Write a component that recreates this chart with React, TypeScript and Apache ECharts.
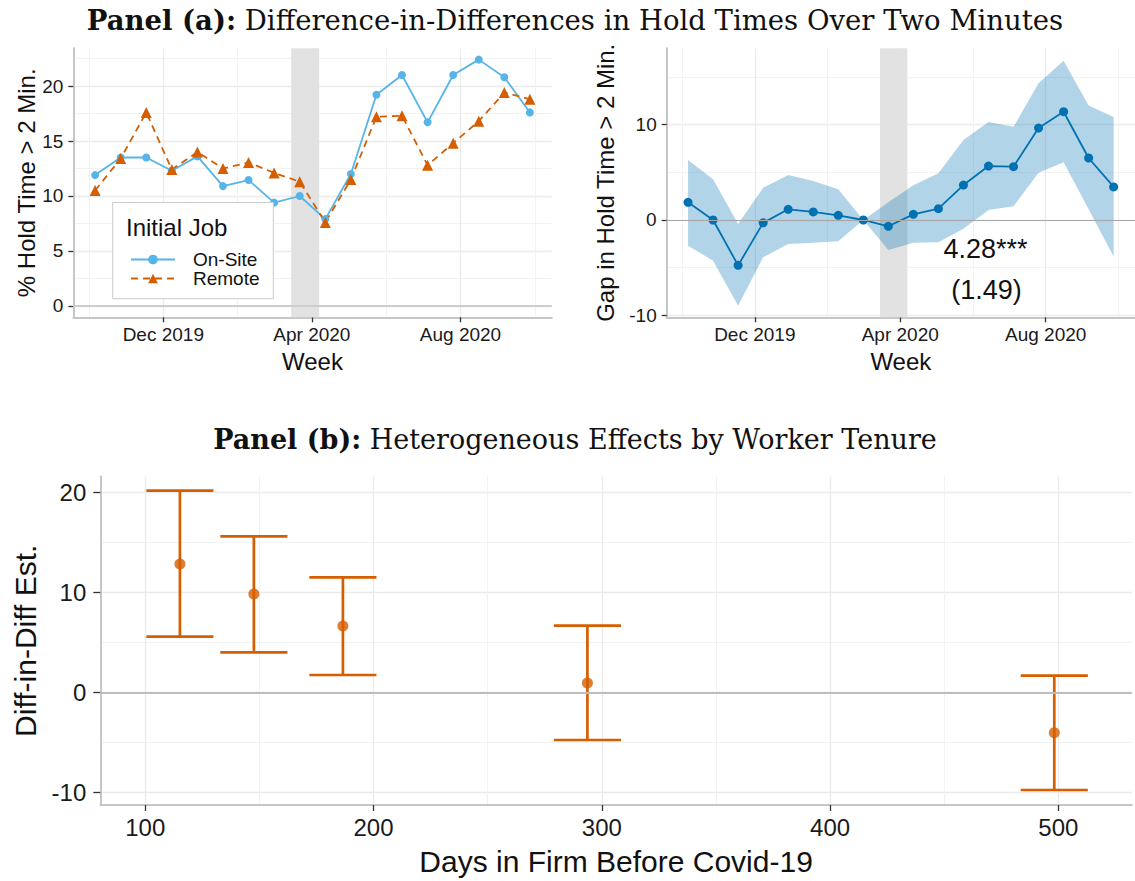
import React, { useEffect, useRef } from "react";
import * as echarts from "echarts";

const SANS = "'Liberation Sans', Arial, Helvetica, sans-serif";
const SERIF = "'DejaVu Serif', serif";
const TEXT = "#111111";

// ---------- Panel (a) data ----------
const ORIGIN = "2019-12-01";
const weeks = [
  "2019-10-06", "2019-10-27", "2019-11-17", "2019-12-08", "2019-12-29", "2020-01-19",
  "2020-02-09", "2020-03-01", "2020-03-22", "2020-04-12", "2020-05-03", "2020-05-24",
  "2020-06-14", "2020-07-05", "2020-07-26", "2020-08-16", "2020-09-06", "2020-09-27",
];
const onSite = [11.9, 13.5, 13.5, 12.3, 13.6, 10.9, 11.45, 9.4, 10.0, 7.9, 12.0, 19.2, 21.0, 16.7, 21.0, 22.4, 20.8, 17.6];
const remote = [10.5, 13.4, 17.6, 12.4, 14.0, 12.5, 13.05, 12.1, 11.3, 7.6, 11.5, 17.2, 17.3, 12.8, 14.8, 16.8, 19.4, 18.8];
const gap = [1.85, 0.0, -4.75, -0.3, 1.12, 0.84, 0.49, 0.0, -0.66, 0.59, 1.19, 3.66, 5.65, 5.58, 9.63, 11.34, 6.49, 3.46];
const gapUpper = [6.28, 4.26, -0.42, 3.38, 4.71, 4.08, 3.21, 0.0, 1.85, 3.63, 4.89, 8.38, 10.26, 9.77, 14.31, 16.68, 12.0, 10.79];
const gapLower = [-2.69, -4.26, -8.97, -3.91, -2.51, -2.37, -2.23, 0.0, -3.14, -2.37, -2.34, -0.91, 1.05, 1.43, 4.96, 6.04, 1.12, -3.84];

const dateTicks = ["2019-12-01", "2020-04-01", "2020-08-01"];
const dateTickLabels = ["Dec 2019", "Apr 2020", "Aug 2020"];
const dateMinor = ["2019-10-01", "2020-01-31", "2020-06-01", "2020-10-01"];
const shadeDates = ["2020-03-15", "2020-04-07"];
const holdTicks = [0, 5, 10, 15, 20];
const holdMinor = [2.5, 7.5, 12.5, 17.5, 22.5];
const gapTicks = [-10, 0, 10];
const gapMinor = [-5, 5, 15];
const seriesNames = ["On-Site", "Remote"];
const didLabel = "4.28***";
const seLabel = "(1.49)";

// ---------- Panel (b) data ----------
const tenureDays = [115.2, 147.6, 186.6, 293.7, 498.2];
const tenureEst = [12.85, 9.85, 6.65, 0.95, -4.02];
const tenureHi = [20.18, 15.62, 11.52, 6.68, 1.68];
const tenureLo = [5.58, 4.02, 1.75, -4.75, -9.75];
const tenureTicks = [100, 200, 300, 400, 500];
const tenureMinor = [150, 250, 350, 450];
const didTicks = [-10, 0, 10, 20];
const didMinor = [-5, 5, 15];
const ERR_HALF_WIDTH = 14.7;

const BLUE_LIGHT = "#56B4E9";
const BLUE_DARK = "#0072B2";
const ORANGE = "#D55E00";

const DAY = 86400000;
const toDay = (s: string) => (Date.parse(s) - Date.parse(ORIGIN)) / DAY;

const dateTickDays = dateTicks.map(toDay);
const dateMinorDays = dateMinor.map(toDay);
const shadeDays = shadeDates.map(toDay);
const weekDays = weeks.map(toDay);

const dateFmt = (v: number) => {
  const i = dateTickDays.findIndex((d) => Math.abs(d - v) < 0.5);
  return i >= 0 ? dateTickLabels[i] : "";
};

function majorAxis(gridIndex: number, min: number, max: number, values: number[], fontSize: number, margin: number, tickLen: number, extra: any = {}) {
  return {
    type: "value",
    gridIndex,
    min,
    max,
    axisLine: { show: true, onZero: false, lineStyle: { color: "#c6c6c6", width: 2 } },
    axisTick: { show: true, customValues: values, length: tickLen, lineStyle: { color: "#333333", width: 1.3 } },
    axisLabel: { show: true, customValues: values, fontSize, fontFamily: SANS, color: "#1a1a1a", margin },
    splitLine: { show: true, lineStyle: { color: "#ebebeb", width: 1.3 } },
    ...extra,
  };
}

function minorAxis(gridIndex: number, min: number, max: number, values: number[]) {
  return {
    type: "value",
    gridIndex,
    min,
    max,
    axisLine: { show: false },
    axisTick: { show: false, customValues: values },
    axisLabel: { show: false, customValues: values },
    splitLine: { show: true, lineStyle: { color: "#f1f1f1", width: 0.9 } },
  };
}

const X_MIN = -73.9;
const X_MAX = 318.9;

function buildOption() {
  const nameStyleA = { fontSize: 24, fontFamily: SANS, color: TEXT };
  const nameStyleB = { fontSize: 30, fontFamily: SANS, color: TEXT };
  const dateLabel = { show: true, customValues: dateTickDays, fontSize: 19, fontFamily: SANS, color: "#1a1a1a", margin: 8, formatter: dateFmt };

  const xAxis = [
    majorAxis(0, X_MIN, X_MAX, dateTickDays, 19, 8, 5, {
      axisLabel: dateLabel,
      name: "Week", nameLocation: "middle", nameGap: 32, nameTextStyle: nameStyleA,
    }),
    minorAxis(0, X_MIN, X_MAX, dateMinorDays),
    majorAxis(1, X_MIN, X_MAX, dateTickDays, 19, 8, 5, {
      axisLabel: dateLabel,
      name: "Week", nameLocation: "middle", nameGap: 32, nameTextStyle: nameStyleA,
    }),
    minorAxis(1, X_MIN, X_MAX, dateMinorDays),
    majorAxis(2, 80.33, 532.2, tenureTicks, 24, 10, 6, {
      name: "Days in Firm Before Covid-19", nameLocation: "middle", nameGap: 41, nameTextStyle: nameStyleB,
    }),
    minorAxis(2, 80.33, 532.2, tenureMinor),
  ];

  const yAxis = [
    majorAxis(0, -1.03, 23.43, holdTicks, 19, 10, 5, {
      name: "% Hold Time > 2 Min.", nameLocation: "middle", nameGap: 33, nameTextStyle: nameStyleA,
    }),
    minorAxis(0, -1.03, 23.43, holdMinor),
    majorAxis(1, -10.19, 17.98, gapTicks, 19, 10, 5, {
      name: "Gap in Hold Time > 2 Min.", nameLocation: "middle", nameGap: 49, nameTextStyle: nameStyleA,
    }),
    minorAxis(1, -10.19, 17.98, gapMinor),
    majorAxis(2, -11.25, 21.6, didTicks, 24, 14, 7, {
      name: "Diff-in-Diff Est.", nameLocation: "middle", nameGap: 60, nameTextStyle: nameStyleB,
    }),
    minorAxis(2, -11.25, 21.6, didMinor),
  ];

  const shadeArea = {
    silent: true,
    itemStyle: { color: "#e2e2e2" },
    data: [[{ xAxis: shadeDays[0] }, { xAxis: shadeDays[1] }]],
  };

  const zeroLine = (color: string, width: number) => ({
    silent: true,
    symbol: "none",
    label: { show: false },
    lineStyle: { color, width, type: "solid" },
    data: [{ yAxis: 0 }],
  });

  const series: any[] = [
    // --- left panel ---
    {
      type: "line", xAxisIndex: 0, yAxisIndex: 0, data: [], z: 1,
      markLine: zeroLine("#cdcdcd", 2),
    },
    {
      type: "line", xAxisIndex: 0, yAxisIndex: 0, data: [], z: 1,
      markArea: shadeArea,
    },
    {
      name: seriesNames[0], type: "line", xAxisIndex: 0, yAxisIndex: 0, z: 3,
      data: weekDays.map((d, i) => [d, onSite[i]]),
      symbol: "circle", symbolSize: 8,
      lineStyle: { color: BLUE_LIGHT, width: 1.8 },
      itemStyle: { color: BLUE_LIGHT },
    },
    {
      name: seriesNames[1], type: "line", xAxisIndex: 0, yAxisIndex: 0, z: 3,
      data: weekDays.map((d, i) => [d, remote[i]]),
      symbol: "triangle", symbolSize: 11,
      lineStyle: { color: ORANGE, width: 1.8, type: [7, 5] },
      itemStyle: { color: ORANGE },
    },
    // --- right panel ---
    {
      type: "line", xAxisIndex: 2, yAxisIndex: 2, data: [], z: 1,
      markArea: shadeArea,
    },
    {
      // confidence ribbon: one polygon built from the band data through the axes
      type: "custom", xAxisIndex: 2, yAxisIndex: 2, z: 2, silent: true,
      data: weekDays.map((d, i) => [d, gapLower[i], gapUpper[i]]),
      encode: { x: 0, y: [1, 2] },
      renderItem: (params: any, api: any) => {
        if (params.dataIndexInside !== 0) return null;
        const n = weekDays.length;
        const upperPts: number[][] = [];
        const lowerPts: number[][] = [];
        for (let i = 0; i < n; i++) {
          upperPts.push(api.coord([api.value(0, i), api.value(2, i)]));
          lowerPts.push(api.coord([api.value(0, i), api.value(1, i)]));
        }
        return {
          type: "polygon",
          shape: { points: upperPts.concat(lowerPts.reverse()) },
          style: { fill: "rgba(0,114,178,0.3)", stroke: "none" },
        };
      },
    },
    {
      type: "line", xAxisIndex: 2, yAxisIndex: 2, data: [], z: 3,
      markLine: zeroLine("#a8a8a8", 1.2),
    },
    {
      type: "line", xAxisIndex: 2, yAxisIndex: 2, z: 4,
      data: weekDays.map((d, i) => [d, gap[i]]),
      symbol: "circle", symbolSize: 9,
      lineStyle: { color: BLUE_DARK, width: 1.8 },
      itemStyle: { color: BLUE_DARK },
    },
    // --- panel (b) ---
    {
      type: "line", xAxisIndex: 4, yAxisIndex: 4, data: [], z: 1,
      markLine: zeroLine("#bdbdbd", 2.2),
    },
    {
      type: "custom", xAxisIndex: 4, yAxisIndex: 4, z: 3,
      data: tenureDays.map((d, i) => [d, tenureLo[i], tenureHi[i]]),
      encode: { x: 0, y: [1, 2] },
      renderItem: (params: any, api: any) => {
        const x = api.value(0);
        const lo = api.value(1);
        const hi = api.value(2);
        const top = api.coord([x, hi]);
        const bot = api.coord([x, lo]);
        const l = api.coord([x - ERR_HALF_WIDTH, hi])[0];
        const r = api.coord([x + ERR_HALF_WIDTH, hi])[0];
        const style = { stroke: ORANGE, lineWidth: 2.7 };
        return {
          type: "group",
          children: [
            { type: "line", shape: { x1: top[0], y1: top[1], x2: bot[0], y2: bot[1] }, style },
            { type: "line", shape: { x1: l, y1: top[1], x2: r, y2: top[1] }, style },
            { type: "line", shape: { x1: l, y1: bot[1], x2: r, y2: bot[1] }, style },
          ],
        };
      },
    },
    {
      type: "scatter", xAxisIndex: 4, yAxisIndex: 4, z: 4,
      data: tenureDays.map((d, i) => [d, tenureEst[i]]),
      symbol: "circle", symbolSize: 11,
      itemStyle: { color: ORANGE },
    },
  ];

  const titleRich = (bold: string, rest: string, y: number, size: number) => ({
    type: "text",
    x: 575,
    y,
    z: 10,
    style: {
      text: `{b|${bold}} ${rest}`,
      fontFamily: SERIF,
      fontSize: size,
      fill: TEXT,
      align: "center",
      verticalAlign: "middle",
      rich: { b: { fontFamily: SERIF, fontSize: size, fontWeight: "bold", fill: TEXT } },
    },
  });

  return {
    animation: false,
    backgroundColor: "#ffffff",
    grid: [
      { left: 73.3, top: 48.3, width: 478.4, height: 269, containLabel: false },
      { left: 666.7, top: 48.3, width: 471.7, height: 269, containLabel: false },
      { left: 100.3, top: 476.5, width: 1031.6, height: 328.5, containLabel: false },
    ],
    xAxis,
    yAxis,
    legend: {
      data: seriesNames,
      orient: "vertical",
      left: 125,
      top: 245,
      padding: 5,
      itemWidth: 44,
      itemHeight: 12,
      itemGap: 0,
      z: 8,
      textStyle: { fontSize: 19, fontFamily: SANS, color: TEXT, lineHeight: 18, padding: [0, 0, 0, 13] },
    },
    graphic: [
      titleRich("Panel (a):", "Difference-in-Differences in Hold Times Over Two Minutes", 20.4, 27.5),
      titleRich("Panel (b):", "Heterogeneous Effects by Worker Tenure", 439.7, 27),
      {
        type: "rect", z: 5,
        shape: { x: 112.7, y: 202.5, width: 160.6, height: 96.2 },
        style: { fill: "#ffffff", stroke: "#cccccc", lineWidth: 1 },
      },
      {
        type: "text", x: 126, y: 227.5, z: 9,
        style: { text: "Initial Job", fontFamily: SANS, fontSize: 24, fill: TEXT, align: "left", verticalAlign: "middle" },
      },
      {
        type: "text", x: 985.5, y: 248.5, z: 9,
        style: { text: didLabel, fontFamily: SANS, fontSize: 27, fill: TEXT, align: "center", verticalAlign: "middle" },
      },
      {
        type: "text", x: 986.5, y: 290, z: 9,
        style: { text: seLabel, fontFamily: SANS, fontSize: 27, fill: TEXT, align: "center", verticalAlign: "middle" },
      },
    ],
    series,
  };
}

export default function App() {
  const ref = useRef<HTMLDivElement>(null);
  useEffect(() => {
    if (!ref.current) return;
    const chart = echarts.init(ref.current, undefined, { renderer: "svg" });
    chart.setOption(buildOption() as any);
    return () => chart.dispose();
  }, []);
  return (
    <div
      ref={ref}
      style={{ position: "absolute", left: 0, top: 0, width: 1135, height: 881, background: "#fff" }}
    />
  );
}
